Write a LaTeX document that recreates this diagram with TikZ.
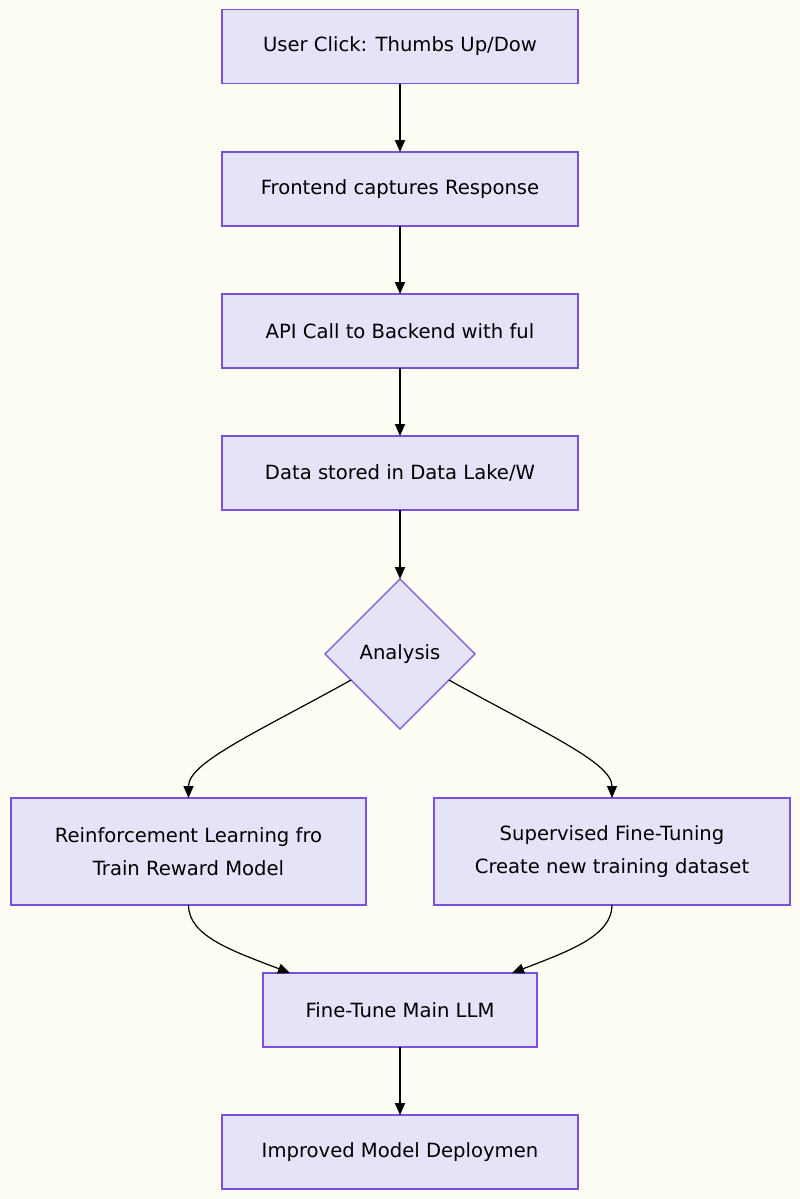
\documentclass[tikz,border=0pt]{standalone}
\usepackage{fontspec}
\setmainfont{DejaVu Sans}
\usetikzlibrary{shapes.geometric,arrows.meta}
\definecolor{bg}{HTML}{FDFDF3}
\definecolor{boxfill}{HTML}{E4E3F8}
\definecolor{boxline}{HTML}{7B50DA}
\begin{document}
\begin{tikzpicture}[x=1pt,y=1pt,
  flowbox/.style={draw=boxline, fill=boxfill, line width=1.4pt, minimum width=356pt,
    minimum height=74pt, inner sep=0pt, outer sep=0pt, font=\fontsize{19.6}{33}\selectfont, align=center},
  widebox/.style={flowbox, minimum height=107pt},
  decision/.style={diamond, draw=boxline, fill=boxfill, line width=1.2pt, minimum width=150pt,
    minimum height=150pt, inner sep=0pt, outer sep=0pt, font=\fontsize{19.6}{22}\selectfont},
  arr/.style={draw=black, line width=1.8pt, -{Triangle[length=12pt,width=10pt]}},
  curvearr/.style={draw=black, line width=1.2pt, -{Triangle[length=12pt,width=10pt]}}
]
\fill[bg] (0,0) rectangle (800,-1199);

\node[flowbox] (b1) at (400,-46.5) {User Click: Thumbs Up/Dow};
\node[flowbox] (b2) at (400,-189) {Frontend captures Response};
\node[flowbox] (b3) at (400,-331) {API Call to Backend with ful};
\node[flowbox] (b4) at (400,-473) {Data stored in Data Lake/W};
\node[decision] (dia) at (400,-654) {Analysis};
\node[widebox, minimum width=355pt] (rl) at (188.5,-851.5) {Reinforcement Learning fro\\Train Reward Model};
\node[widebox] (sft) at (612,-851.5) {Supervised Fine-Tuning\\Create new training dataset};
\node[flowbox, minimum width=274pt] (ft) at (400,-1010) {Fine-Tune Main LLM};
\node[flowbox] (dep) at (400,-1152) {Improved Model Deploymen};

\draw[arr] (b1) -- (b2);
\draw[arr] (b2) -- (b3);
\draw[arr] (b3) -- (b4);
\draw[arr] (b4) -- (dia);
\draw[curvearr] (dia.208) to[out=209,in=90,out looseness=1.4,in looseness=0.45] (rl.north);
\draw[curvearr] (dia.-28) to[out=-29,in=90,out looseness=1.4,in looseness=0.45] (sft.north);
\draw[curvearr] (rl.south) to[out=-90,in=159,out looseness=0.65,in looseness=1.3] ([xshift=27pt]ft.north west);
\draw[curvearr] (sft.south) to[out=-90,in=21,out looseness=0.65,in looseness=1.3] ([xshift=-25pt]ft.north east);
\draw[arr] (ft) -- (dep);
\end{tikzpicture}
\end{document}
